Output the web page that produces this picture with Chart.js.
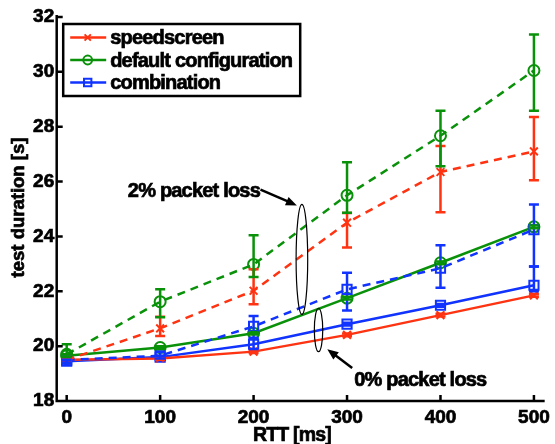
<!DOCTYPE html>
<html>
<head>
<meta charset="utf-8">
<script src="https://cdn.jsdelivr.net/npm/chart.js@4.4.0/dist/chart.umd.min.js"></script>
<style>
    html, body { margin: 0; padding: 0; background: #fff; }
</style>
</head>
<body>
<canvas id="myChart" width="555" height="444"></canvas>
<script>
/* data */
const rtt = [0, 100, 200, 300, 400, 500];
const xTicks = [0, 100, 200, 300, 400, 500];
const yTicks = [18, 20, 22, 24, 26, 28, 30, 32];

// 2% packet loss (dashed)
const speed2 = [19.5, 20.65, 22.02, 24.5, 26.35, 27.1];
const speed2Lo = [19.4, 20.37, 21.53, 23.6, 24.88, 26.05];
const speed2Hi = [19.6, 21.07, 22.8, 24.85, 27.3, 28.35];
const default2 = [19.7, 21.62, 22.98, 25.5, 27.67, 30.05];
const default2Lo = [19.4, 21.05, 22.52, 24.86, 26.56, 28.58];
const default2Hi = [20.07, 22.07, 24.04, 26.7, 28.58, 31.36];
const combo2 = [19.5, 19.65, 20.72, 22.07, 22.84, 24.25];
const combo2Lo = [19.4, 19.5, 20.3, 21.3, 22.13, 22.9];
const combo2Hi = [19.6, 19.8, 21.1, 22.68, 23.68, 25.16];

// 0% packet loss (solid)
const speed0 = [19.5, 19.55, 19.8, 20.41, 21.13, 21.85];
const speed0Lo = [19.45, 19.5, 19.75, 20.36, 21.08, 21.8];
const speed0Hi = [19.55, 19.6, 19.85, 20.46, 21.18, 21.9];
const default0 = [19.65, 19.95, 20.47, 21.75, 23.04, 24.35];
const default0Lo = [19.6, 19.9, 20.42, 21.7, 22.99, 24.3];
const default0Hi = [19.7, 20.0, 20.52, 21.8, 23.09, 24.4];
const combo0 = [19.45, 19.6, 20.07, 20.8, 21.49, 22.22];
const combo0Lo = [19.4, 19.55, 19.9, 20.75, 21.44, 22.0];
const combo0Hi = [19.5, 19.65, 20.3, 20.85, 21.54, 22.9];

const legendNames = ['speedscreen', 'default configuration', 'combination'];

const RED = '#ff3311';
const GREEN = '#0a910a';
const BLUE = '#1133ff';
const FONT = '"Liberation Sans", Arial, sans-serif';

function series(label, values, color, style, radius, dashed) {
    return {
        label: label,
        data: rtt.map((r, i) => ({ x: r, y: values[i] })),
        borderColor: color,
        backgroundColor: 'rgba(0,0,0,0)',
        borderWidth: 2.5,
        borderDash: dashed ? [8, 6] : [],
        pointStyle: style,
        pointRadius: radius,
        pointBorderColor: color,
        pointBackgroundColor: 'rgba(0,0,0,0)',
        pointBorderWidth: 2,
        tension: 0,
    };
}

const datasets = [
    series('speedscreen 2%', speed2, RED, 'crossRot', 5.5, true),
    series('default configuration 2%', default2, GREEN, 'circle', 5.5, true),
    series('combination 2%', combo2, BLUE, 'rect', 6.5, true),
    series('speedscreen 0%', speed0, RED, 'crossRot', 5.5, false),
    series('default configuration 0%', default0, GREEN, 'circle', 5.5, false),
    series('combination 0%', combo0, BLUE, 'rect', 6.5, false),
];
const errLo = [speed2Lo, default2Lo, combo2Lo, speed0Lo, default0Lo, combo0Lo];
const errHi = [speed2Hi, default2Hi, combo2Hi, speed0Hi, default0Hi, combo0Hi];

function arrow(ctx, x1, y1, x2, y2) {
    const ang = Math.atan2(y2 - y1, x2 - x1);
    ctx.beginPath();
    ctx.moveTo(x1, y1);
    ctx.lineTo(x2 - 8 * Math.cos(ang), y2 - 8 * Math.sin(ang));
    ctx.stroke();
    ctx.beginPath();
    ctx.moveTo(x2, y2);
    ctx.lineTo(x2 - 11 * Math.cos(ang) + 4.5 * Math.sin(ang), y2 - 11 * Math.sin(ang) - 4.5 * Math.cos(ang));
    ctx.lineTo(x2 - 11 * Math.cos(ang) - 4.5 * Math.sin(ang), y2 - 11 * Math.sin(ang) + 4.5 * Math.cos(ang));
    ctx.closePath();
    ctx.fill();
}

// bold text with a thin outline, the reference is rendered very heavy
function heavyText(ctx, text, x, y) {
    ctx.fillText(text, x, y);
    ctx.strokeText(text, x, y);
}

const extras = {
    id: 'extras',
    afterDatasetsDraw(chart) {
        const { ctx, scales: { x, y } } = chart;
        ctx.save();
        ctx.lineWidth = 2.5;
        datasets.forEach((ds, d) => {
            ctx.strokeStyle = ds.borderColor;
            ctx.beginPath();
            rtt.forEach((r, i) => {
                const px = x.getPixelForValue(r);
                const lo = y.getPixelForValue(errLo[d][i]);
                const hi = y.getPixelForValue(errHi[d][i]);
                ctx.moveTo(px, lo); ctx.lineTo(px, hi);
                ctx.moveTo(px - 5, lo); ctx.lineTo(px + 5, lo);
                ctx.moveTo(px - 5, hi); ctx.lineTo(px + 5, hi);
            });
            ctx.stroke();
        });
        ctx.restore();
    },
    afterDraw(chart) {
        const { ctx, chartArea: a, scales: { x, y } } = chart;
        ctx.save();

        // axes with inward ticks
        ctx.strokeStyle = '#000';
        ctx.lineWidth = 2.5;
        ctx.beginPath();
        ctx.moveTo(a.left, a.top - 2);
        ctx.lineTo(a.left, a.bottom);
        ctx.lineTo(a.right, a.bottom);
        yTicks.forEach(v => {
            const py = y.getPixelForValue(v);
            ctx.moveTo(a.left, py); ctx.lineTo(a.left + 6, py);
        });
        xTicks.forEach(v => {
            const px = x.getPixelForValue(v);
            ctx.moveTo(px, a.bottom); ctx.lineTo(px, a.bottom - 6);
        });
        ctx.stroke();

        // legend
        const lx = a.left + 6.5, ly = a.top + 7, lw = 237, lh = 72;
        ctx.fillStyle = '#fff';
        ctx.fillRect(lx, ly, lw, lh);
        ctx.lineWidth = 2.5;
        ctx.strokeRect(lx, ly, lw, lh);
        ctx.font = 'bold 20px ' + FONT;
        ctx.letterSpacing = '-0.8px';
        ctx.textBaseline = 'middle';
        legendNames.forEach((name, i) => {
            const ds = datasets[i];
            const cy = ly + 13.5 + i * 22.5;
            ctx.strokeStyle = ds.borderColor;
            ctx.lineWidth = 2.5;
            ctx.beginPath();
            ctx.moveTo(lx + 7, cy); ctx.lineTo(lx + 43, cy);
            ctx.stroke();
            ctx.lineWidth = 2;
            ctx.fillStyle = 'rgba(0,0,0,0)';
            Chart.helpers.drawPoint(ctx, { pointStyle: ds.pointStyle, radius: ds.pointRadius * 0.8, borderWidth: 2 }, lx + 24.5, cy);
            ctx.fillStyle = '#000';
            ctx.strokeStyle = '#000';
            ctx.lineWidth = 0.7;
            heavyText(ctx, name, lx + 47, cy + 1);
        });

        // annotations
        ctx.strokeStyle = '#000';
        ctx.fillStyle = '#000';
        ctx.textBaseline = 'alphabetic';
        ctx.lineWidth = 0.7;
        heavyText(ctx, '2% packet loss', x.getPixelForValue(65.4), y.getPixelForValue(25.45));
        heavyText(ctx, '0% packet loss', x.getPixelForValue(307.7), y.getPixelForValue(18.55));
        ctx.lineWidth = 2.5;
        arrow(ctx, x.getPixelForValue(207.4), y.getPixelForValue(25.71), x.getPixelForValue(246.3), y.getPixelForValue(25.13));
        arrow(ctx, x.getPixelForValue(305.5), y.getPixelForValue(19.2), x.getPixelForValue(278.9), y.getPixelForValue(19.89));
        ctx.lineWidth = 1.2;
        ctx.beginPath();
        ctx.ellipse(x.getPixelForValue(251.7), y.getPixelForValue(23.16), 5.8, 55, 0, 0, Math.PI * 2);
        ctx.stroke();
        ctx.beginPath();
        ctx.ellipse(x.getPixelForValue(269.5), y.getPixelForValue(20.59), 4.2, 21.7, 0, 0, Math.PI * 2);
        ctx.stroke();

        // axis titles
        ctx.textAlign = 'center';
        ctx.lineWidth = 0.7;
        ctx.font = 'bold 19.5px ' + FONT;
        ctx.letterSpacing = '-0.8px';
        heavyText(ctx, 'RTT [ms]', 292, 441);
        ctx.translate(18.5, 207.5);
        ctx.rotate(-Math.PI / 2);
        ctx.font = 'bold 18.5px ' + FONT;
        ctx.letterSpacing = '0px';
        ctx.textBaseline = 'middle';
        heavyText(ctx, 'test duration [s]', 0, 0);
        ctx.restore();
    },
};

const tickFont = { family: FONT, size: 19, weight: 'bold' };

new Chart(document.getElementById('myChart').getContext('2d'), {
    type: 'line',
    data: { datasets: datasets },
    options: {
        responsive: false,
        animation: false,
        layout: { padding: { left: 0, right: 10, top: 17, bottom: 0 } },
        plugins: { legend: { display: false }, tooltip: { enabled: false } },
        scales: {
            x: {
                type: 'linear',
                min: -10.7,
                max: 511.5,
                afterBuildTicks: (s) => { s.ticks = xTicks.map(v => ({ value: v })); },
                afterFit: (s) => { s.height = 43; },
                grid: { display: false, drawTicks: false },
                border: { display: false },
                ticks: { color: '#000', padding: 5, maxRotation: 0, font: tickFont, textStrokeColor: '#000', textStrokeWidth: 0.7 },
            },
            y: {
                min: 18,
                max: 32,
                afterBuildTicks: (s) => { s.ticks = yTicks.map(v => ({ value: v })); },
                afterFit: (s) => { s.width = 56.7; },
                grid: { display: false, drawTicks: false },
                border: { display: false },
                ticks: { color: '#000', padding: 2.5, font: tickFont, textStrokeColor: '#000', textStrokeWidth: 0.7 },
            },
        },
    },
    plugins: [extras],
});
</script>
</body>
</html>
